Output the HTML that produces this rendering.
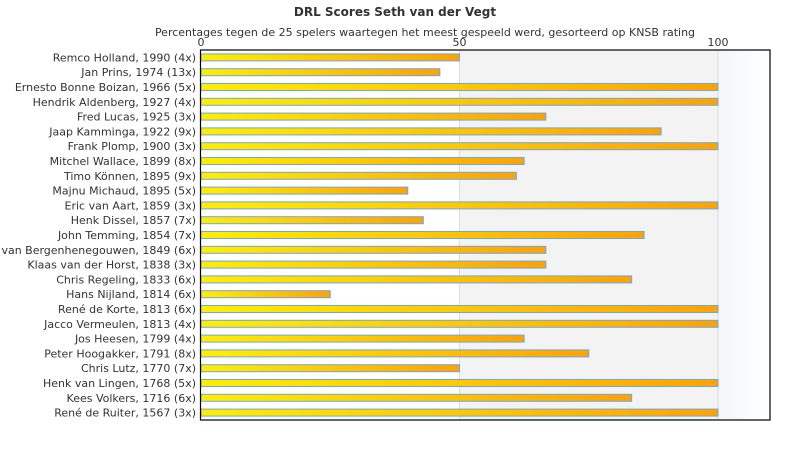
<!DOCTYPE html>
<html><head><meta charset="utf-8"><style>
body{margin:0;background:#fff;width:790px;height:450px;overflow:hidden;font-family:"DejaVu Sans","Liberation Sans",sans-serif}
</style></head><body>
<svg width="790" height="450" xmlns="http://www.w3.org/2000/svg">
<defs>
<linearGradient id="bar" x1="0" x2="1" y1="0" y2="0"><stop offset="0" stop-color="#ffee00"/><stop offset="1" stop-color="#ffa200"/></linearGradient>
<linearGradient id="fade" x1="0" x2="1"><stop offset="0" stop-color="#f3f6fa"/><stop offset="1" stop-color="#fff"/></linearGradient>
</defs>
<text x="395" y="16" text-anchor="middle" font-size="12" font-weight="bold" fill="#333">DRL Scores Seth van der Vegt</text>
<text x="425" y="36" text-anchor="middle" font-size="11" fill="#333">Percentages tegen de 25 spelers waartegen het meest gespeeld werd, gesorteerd op KNSB rating</text>
<g id="plot"></g>
</svg>
<script>
const categories=["Remco Holland, 1990 (4x)","Jan Prins, 1974 (13x)","Ernesto Bonne Boizan, 1966 (5x)","Hendrik Aldenberg, 1927 (4x)","Fred Lucas, 1925 (3x)","Jaap Kamminga, 1922 (9x)","Frank Plomp, 1900 (3x)","Mitchel Wallace, 1899 (8x)","Timo Können, 1895 (9x)","Majnu Michaud, 1895 (5x)","Eric van Aart, 1859 (3x)","Henk Dissel, 1857 (7x)","John Temming, 1854 (7x)","Jan van Bergenhenegouwen, 1849 (6x)","Klaas van der Horst, 1838 (3x)","Chris Regeling, 1833 (6x)","Hans Nijland, 1814 (6x)","René de Korte, 1813 (6x)","Jacco Vermeulen, 1813 (4x)","Jos Heesen, 1799 (4x)","Peter Hoogakker, 1791 (8x)","Chris Lutz, 1770 (7x)","Henk van Lingen, 1768 (5x)","Kees Volkers, 1716 (6x)","René de Ruiter, 1567 (3x)"];
const values=[50,46.2,100,100,66.7,89,100,62.5,61,40,100,43,85.7,66.7,66.7,83.3,25,100,100,62.5,75,50,100,83.3,100];
const ticks=[0,50,100];
const L=201,R=770,T=50,B=420,K=5.17;
const x=v=>L+v*K;
const band=(B-T)/categories.length;
const y=i=>T+band*i;
const g=document.getElementById('plot');
const NS="http://www.w3.org/2000/svg";
function mk(t,a){const e=document.createElementNS(NS,t);for(const k in a)e.setAttribute(k,a[k]);g.appendChild(e);return e;}
let e;
e=mk('rect',{x:x(50),y:T,width:x(100)-x(50),height:B-T,fill:'#f3f3f3'});


e=mk('rect',{x:x(100),y:T,width:R-x(100),height:B-T,fill:'url(#fade)'});


ticks.forEach(t=>{
 if(t>0){e=mk('line',{x1:x(t),x2:x(t),y1:T,y2:B,stroke:'#ddd'});
 
 }
 e=mk('text',{x:x(t),y:46,'text-anchor':'middle','font-size':11,fill:'#333'});e.textContent=t;
 
 
});
categories.forEach((c,i)=>{
 const cy=y(i)+band/2;
 e=mk('text',{x:196,y:cy+4,'text-anchor':'end','font-size':11,fill:'#333'});e.textContent=c;
 
 
 e=mk('rect',{x:L,y:cy-3.5,width:x(values[i])-L,height:7,fill:'url(#bar)',stroke:'#6aa8e8','stroke-width':1});
 
 
});
e=mk('rect',{x:L-0.5,y:T,width:R-L+0.5,height:B-T,fill:'none',stroke:'#000','stroke-width':1.2});


</script>
</body></html>
